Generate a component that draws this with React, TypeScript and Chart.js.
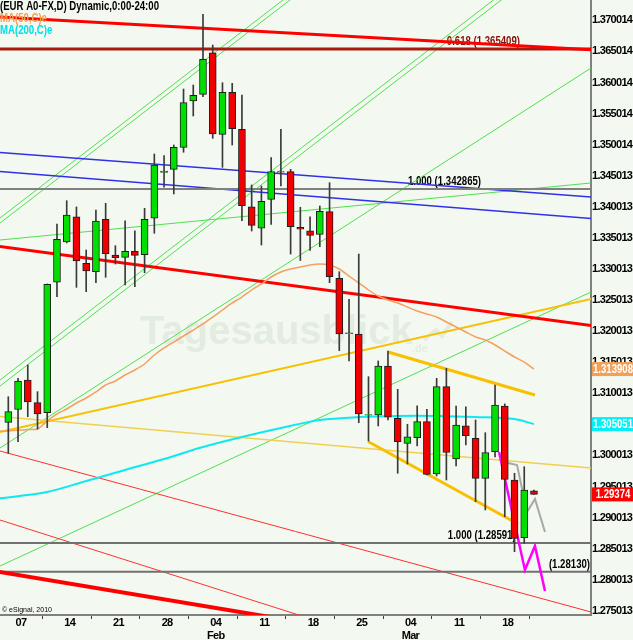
import { useEffect, useRef } from 'react';
import { Chart, registerables } from 'chart.js';

Chart.register(...registerables);

// ---------- DATA ----------
const dates = [
  '2010-01-06','2010-01-07','2010-01-08','2010-01-11','2010-01-12','2010-01-13','2010-01-14','2010-01-15',
  '2010-01-18','2010-01-19','2010-01-20','2010-01-21','2010-01-22','2010-01-25','2010-01-26','2010-01-27',
  '2010-01-28','2010-01-29','2010-02-01','2010-02-02','2010-02-03','2010-02-04','2010-02-05','2010-02-08',
  '2010-02-09','2010-02-10','2010-02-11','2010-02-12','2010-02-15','2010-02-16','2010-02-17','2010-02-18',
  '2010-02-19','2010-02-22','2010-02-23','2010-02-24','2010-02-25','2010-02-26','2010-03-01','2010-03-02',
  '2010-03-03','2010-03-04','2010-03-05','2010-03-08','2010-03-09','2010-03-10','2010-03-11','2010-03-12',
  '2010-03-15','2010-03-16','2010-03-17','2010-03-18','2010-03-19','2010-03-22','2010-03-23',
];

const opens = [
  1.30534,1.30740,1.31215,1.30850,1.30689,1.32787,1.33435,1.33842,1.33093,1.32957,
  1.33801,1.33226,1.33189,1.33286,1.33231,1.33817,1.34555,1.34605,1.34959,1.35704,
  1.35812,1.36481,1.35168,1.35844,1.35249,1.34003,1.33656,1.34122,1.34570,1.34567,
  1.33672,1.33617,1.33559,1.33923,1.32851,1.31960,1.31955,1.30650,1.30652,1.31440,
  1.30599,1.30196,1.30286,1.30544,1.29702,1.31107,1.29944,1.30479,1.30277,1.29633,
  1.30061,1.30796,1.29606,1.28677,1.29430,
];
const highs = [
  1.30946,1.31240,1.31456,1.31027,1.32760,1.33725,1.34100,1.33999,1.33307,1.33950,
  1.34058,1.33376,1.33778,1.33617,1.33978,1.34851,1.34824,1.34996,1.35897,1.35962,
  1.37099,1.36605,1.35999,1.35989,1.35801,1.34353,1.34336,1.34792,1.35249,1.34605,
  1.33994,1.33842,1.34015,1.34390,1.32957,1.32513,1.33242,1.31268,1.31521,1.31681,
  1.31065,1.30502,1.30801,1.30743,1.31242,1.31403,1.30796,1.30785,1.30571,1.30367,
  1.31134,1.30830,1.29714,1.29820,1.29445,
];
const lows = [
  1.30035,1.30222,1.30624,1.30426,1.30447,1.32555,1.33420,1.32706,1.32636,1.32780,
  1.32867,1.33081,1.32743,1.32716,1.32941,1.33575,1.34316,1.34208,1.34879,1.35463,
  1.35773,1.35104,1.34637,1.34996,1.33778,1.33612,1.33387,1.33720,1.34336,1.33242,
  1.33138,1.33299,1.33360,1.32780,1.31686,1.31521,1.30528,1.30233,1.30475,1.30571,
  1.29714,1.29863,1.30153,1.29686,1.29670,1.29606,1.29831,1.30169,1.29256,1.29123,
  1.29976,1.29015,1.28452,1.28587,1.29374,
];
const closes = [
  1.30705,1.31199,1.30861,1.30668,1.32755,1.33479,1.33870,1.33130,1.32969,1.33773,
  1.33242,1.33183,1.33286,1.33221,1.33801,1.34674,1.34575,1.34959,1.35677,1.35796,
  1.36375,1.35173,1.35844,1.35258,1.34019,1.33704,1.34090,1.34567,1.34558,1.33682,
  1.33640,1.33543,1.33929,1.32877,1.31955,1.31972,1.30668,1.30658,1.31440,1.30615,
  1.30222,1.30302,1.30544,1.29697,1.31107,1.30048,1.30491,1.30318,1.29633,1.30045,
  1.30813,1.29617,1.28667,1.29445,1.29374,
];

// MA(50) – one reading per bar, starting one bar before the first candle
const ma50Idx = [-1,0,1,2,3,4,5,6,7,8,9,10,11,12,13,14,15,16,17,18,19,20,21,22,23,24,25,26,27,28,29,30,31,32,33,34,35,36,37,38,39,40,41,42,43,44,45,46,47,48,49,50,51,52,53,54];
const ma50 = [
  1.30390,1.30394,1.30410,1.30418,1.30426,1.30555,1.30668,1.30748,1.30845,1.30925,1.31022,
  1.31134,1.31199,1.31295,1.31376,1.31472,1.31617,1.31730,1.31826,1.31923,1.32019,
  1.32116,1.32228,1.32341,1.32454,1.32550,1.32663,1.32760,1.32872,1.32953,1.33001,
  1.33033,1.33065,1.33081,1.33065,1.33001,1.32888,1.32776,1.32663,1.32566,1.32502,
  1.32454,1.32389,1.32325,1.32277,1.32228,1.32148,1.32068,1.31987,1.31907,1.31858,
  1.31778,1.31681,1.31585,1.31504,1.313908,
];
// MA(200) – readings every few bars
const ma200Idx = [-1,4,8,12,16,20,24,28,32,36,40,44,48,52,54];
const ma200 = [1.29308,1.29413,1.29590,1.29767,1.29944,1.30137,1.30298,1.30442,1.30571,1.30619,1.30636,1.30636,1.30619,1.30587,1.305051];

// trend lines: [barIndex, price] anchor points
const redResistTop = [[-1, 1.370571], [61, 1.365198]];
const fib618 = [[-1, 1.365409], [61, 1.365409]];
const redResistMid = [[-1, 1.33366], [61, 1.32068]];
const redThickLow = [[-1, 1.28129], [30, 1.27320]];
const redThinA = [[-1, 1.30079], [61, 1.27433]];
const redThinB = [[-1, 1.28969], [32, 1.27326]];
const blueUpper = [[-1, 1.34877], [61, 1.34146]];
const blueLower = [[-1, 1.34572], [61, 1.33799]];
const greenShallow = [[-1, 1.33465], [61, 1.34402]];
const greenA1 = [[-1, 1.33804], [30, 1.375443]];
const greenA2 = [[-1, 1.33723], [31, 1.375783]];
const greenB1 = [[-1, 1.31197], [51, 1.374694]];
const greenB2 = [[-1, 1.31100], [52, 1.374935]];
const greenC = [[-1, 1.30106], [61, 1.36350]];
const greenE = [[-1, 1.28211], [61, 1.32714]];
const goldUp = [[-1, 1.30373], [61, 1.32558]];
const paleDown = [[-1, 1.30630], [61, 1.29783]];
const goldChanTop = [[39.0, 1.31665], [54.1, 1.30973]];
const goldChanBot = [[36.95, 1.30225], [52.36, 1.28898]];
const fib100a = [[-1, 1.342865], [61, 1.342865]];
const fib100b = [[-1, 1.28591], [61, 1.28591]];
const level28130 = [[-1, 1.28130], [61, 1.28130]];
const projMagenta = [[50.41, 1.30056], [53.07, 1.28158], [54.10, 1.28544], [55.13, 1.27820]];
const projGray = [[51.33, 1.29879], [52.26, 1.29847], [53.28, 1.29091], [54.10, 1.29300], [55.13, 1.28769]];

const yTickValues = [1.370014,1.365014,1.360014,1.355014,1.350014,1.345013,1.340013,1.335013,1.330013,1.325013,1.320013,1.315013,1.310013,1.305013,1.300013,1.295013,1.290013,1.285013,1.280013,1.275013];
const yTickLabels = ['1.370014','1.365014','1.360014','1.355014','1.350014','1.345013','1.340013','1.335013','1.330013','1.325013','1.320013','1.315013','1.310013','1.305013','1.300013','1.295013','1.290013','1.285013','1.280013','1.275013'];
const xTickIdx = [1, 6, 11, 16, 21, 26, 31, 36, 41, 46, 51];
const xTickLabels = ['07','14','21','28','04','11','18','25','04','11','18'];
const xMonthLabels = ['','','','','Feb','','','','Mar','',''];

// ---------- STYLE ----------
const FONT = "'Liberation Sans', Arial, sans-serif";
const BG = '#f3f8f0';
const X_MIN = -0.853;
const X_MAX = 59.857;
const Y_MIN = 1.274334;
const Y_MAX = 1.373294;

const trendStyles: { pts: number[][]; color: string; width: number }[] = [
  { pts: greenA1, color: '#50e050', width: 1 },
  { pts: greenA2, color: '#50e050', width: 1 },
  { pts: greenB1, color: '#50e050', width: 1 },
  { pts: greenB2, color: '#50e050', width: 1 },
  { pts: greenC, color: '#50e050', width: 1 },
  { pts: greenE, color: '#50e050', width: 1 },
  { pts: greenShallow, color: '#50e050', width: 1 },
  { pts: redThinA, color: '#ff3030', width: 1 },
  { pts: redThinB, color: '#ff3030', width: 1 },
  { pts: paleDown, color: '#f0d050', width: 1.5 },
  { pts: goldUp, color: '#f8c000', width: 2 },
  { pts: goldChanTop, color: '#f8c000', width: 3 },
  { pts: goldChanBot, color: '#f8c000', width: 3 },
  { pts: blueUpper, color: '#3030e8', width: 1.5 },
  { pts: blueLower, color: '#3030e8', width: 1.5 },
  { pts: fib100a, color: '#808080', width: 2 },
  { pts: fib100b, color: '#707070', width: 2 },
  { pts: level28130, color: '#707070', width: 2 },
  { pts: redResistMid, color: '#ff0000', width: 3 },
  { pts: redThickLow, color: '#ff0000', width: 4 },
  { pts: fib618, color: '#a81c10', width: 3 },
  { pts: redResistTop, color: '#ff0000', width: 3 },
];

function narrowText(ctx: any, text: string, x: number, y: number, px: number, color: string, align: string, baseline: string) {
  ctx.save();
  ctx.letterSpacing = '0px';
  ctx.font = `bold ${px}px ${FONT}`;
  ctx.fillStyle = color;
  ctx.textAlign = align;
  ctx.textBaseline = baseline;
  ctx.translate(x, y);
  ctx.scale(0.8, 1);
  ctx.fillText(text, 0, 0);
  ctx.restore();
}

const overlayPlugin = {
  id: 'overlay',
  beforeDraw(chart: any) {
    const ctx = chart.ctx;
    ctx.save();
    ctx.fillStyle = BG;
    ctx.fillRect(0, 0, chart.width, chart.height);
    ctx.restore();
    // condensed look for the axis labels drawn by Chart.js
    ctx.letterSpacing = '-0.7px';
  },
  beforeDatasetsDraw(chart: any) {
    const ctx = chart.ctx;
    const xs = chart.scales.x;
    const ys = chart.scales.y;
    ctx.save();
    ctx.letterSpacing = '0px';
    // watermark
    ctx.fillStyle = '#e3ece1';
    ctx.font = "bold 40px 'Liberation Sans', Arial, sans-serif";
    ctx.textBaseline = 'middle';
    ctx.textAlign = 'left';
    ctx.fillText('Tagesausblick', 140, 333);
    ctx.font = "bold 11px 'Liberation Sans', Arial, sans-serif";
    ctx.fillText('.de', 412, 349);
    ctx.strokeStyle = '#e3ece1';
    ctx.lineWidth = 4;
    ctx.beginPath();
    ctx.moveTo(424, 340);
    ctx.lineTo(436, 330);
    ctx.lineTo(442, 336);
    ctx.lineTo(452, 322);
    ctx.stroke();
    ctx.restore();
    // level annotations
    narrowText(ctx, '0.618 (1.365409)', xs.getPixelForValue(45.05), ys.getPixelForValue(1.365409) - 1, 12, '#8a1008', 'left', 'bottom');
    narrowText(ctx, '1.000 (1.342865)', xs.getPixelForValue(41.05), ys.getPixelForValue(1.342865) - 1, 12, '#000', 'left', 'bottom');
    narrowText(ctx, '1.000 (1.28591)', xs.getPixelForValue(45.15), ys.getPixelForValue(1.28591) - 1, 12, '#000', 'left', 'bottom');
    narrowText(ctx, '(1.28130)', chart.chartArea.right - 1, ys.getPixelForValue(1.28130) - 1, 12, '#000', 'right', 'bottom');
  },
  afterDraw(chart: any) {
    const ctx = chart.ctx;
    const ys = chart.scales.y;
    const area = chart.chartArea;
    // legend
    narrowText(ctx, '(EUR A0-FX,D) Dynamic,0:00-24:00', 0, 7, 12, '#000', 'left', 'middle');
    narrowText(ctx, 'MA(50,C)e', 0, 19, 12, '#f5a050', 'left', 'middle');
    narrowText(ctx, 'MA(200,C)e', 0, 31, 12, '#00e0e8', 'left', 'middle');
    // copyright
    ctx.save();
    ctx.letterSpacing = '0px';
    ctx.fillStyle = '#000';
    ctx.font = "7px 'Liberation Sans', Arial, sans-serif";
    ctx.textBaseline = 'middle';
    ctx.textAlign = 'left';
    ctx.fillText('\u00a9 eSignal, 2010', 2, area.bottom - 5);
    ctx.restore();
    // price boxes
    const boxes = [
      { v: ma50[ma50.length - 1], t: '1.313908', bg: '#f0a058' },
      { v: ma200[ma200.length - 1], t: '1.305051', bg: '#00f0f8' },
      { v: closes[closes.length - 1], t: '1.29374', bg: '#ff0000' },
    ];
    for (const b of boxes) {
      const y = ys.getPixelForValue(b.v);
      ctx.save();
      ctx.fillStyle = b.bg;
      ctx.fillRect(area.right + 1, y - 7, chart.width - area.right - 1, 14);
      ctx.restore();
      narrowText(ctx, b.t, (area.right + chart.width) / 2 + 1, y + 0.5, 12, '#fff', 'center', 'middle');
    }
  },
};

export default function App() {
  const ref = useRef<HTMLCanvasElement | null>(null);

  useEffect(() => {
    if (!ref.current) return;
    const toXY = (pts: number[][]) => pts.map(([x, y]) => ({ x, y }));

    const trendSets = trendStyles.map((s, i) => ({
      type: 'line' as const,
      data: toXY(s.pts),
      borderColor: s.color,
      borderWidth: s.width,
      pointRadius: 0,
      tension: 0,
      fill: false,
      order: 100 - i,
    }));

    const chart = new Chart(ref.current, {
      type: 'bar',
      data: {
        datasets: [
          ...trendSets,
          {
            type: 'line',
            data: ma200Idx.map((k, i) => ({ x: k, y: ma200[i] })),
            borderColor: '#10e8f0',
            borderWidth: 2,
            pointRadius: 0,
            tension: 0.3,
            fill: false,
            order: 20,
          },
          {
            type: 'line',
            data: ma50Idx.map((k, i) => ({ x: k, y: ma50[i] })),
            borderColor: '#f4a060',
            borderWidth: 1.5,
            pointRadius: 0,
            tension: 0.2,
            fill: false,
            order: 19,
          },
          {
            type: 'line',
            data: toXY(projGray),
            borderColor: '#a8a8a8',
            borderWidth: 2,
            pointRadius: 0,
            tension: 0,
            fill: false,
            order: 11,
          },
          {
            type: 'line',
            data: toXY(projMagenta),
            borderColor: '#ff00ff',
            borderWidth: 2.5,
            pointRadius: 0,
            tension: 0,
            fill: false,
            order: 10,
          },
          {
            type: 'bar',
            data: dates.map((_, i) => ({ x: i, y: [lows[i], highs[i]] })) as any,
            backgroundColor: '#3a3a3a',
            barThickness: 1,
            grouped: false,
            order: 2,
          },
          {
            type: 'bar',
            data: dates.map((_, i) => ({ x: i, y: [opens[i], closes[i]] })) as any,
            backgroundColor: dates.map((_, i) => (closes[i] >= opens[i] ? '#00e000' : '#f00000')),
            borderColor: '#1e1e1e',
            borderWidth: 1,
            borderSkipped: false,
            barThickness: 7,
            grouped: false,
            order: 1,
          },
        ] as any,
      },
      options: {
        animation: false,
        responsive: false,
        maintainAspectRatio: false,
        layout: { padding: 0 },
        plugins: { legend: { display: false }, tooltip: { enabled: false } },
        scales: {
          x: {
            type: 'linear',
            min: X_MIN,
            max: X_MAX,
            offset: false,
            afterBuildTicks: (s: any) => {
              s.ticks = xTickIdx.map((v) => ({ value: v }));
            },
            afterFit: (s: any) => {
              s.height = 25;
              s.paddingLeft = 0;
              s.paddingRight = 0;
            },
            ticks: {
              autoSkip: false,
              maxRotation: 0,
              minRotation: 0,
              align: 'center',
              labelOffset: 3,
              padding: -2,
              color: '#000',
              font: { family: FONT, size: 11, weight: 'bold', lineHeight: 1.15 },
              callback: (_v: any, i: number) =>
                xMonthLabels[i] ? [xTickLabels[i], xMonthLabels[i]] : xTickLabels[i],
            },
            grid: { drawOnChartArea: false, drawTicks: true, tickLength: 4, color: '#404040' },
            border: { display: true, color: '#808080', width: 2 },
          },
          y: {
            type: 'linear',
            position: 'right',
            min: Y_MIN,
            max: Y_MAX,
            afterBuildTicks: (s: any) => {
              s.ticks = yTickValues.map((v) => ({ value: v }));
            },
            afterFit: (s: any) => {
              s.width = 42;
              s.paddingTop = 0;
              s.paddingBottom = 0;
            },
            ticks: {
              autoSkip: false,
              padding: 1,
              color: '#000',
              font: { family: FONT, size: 11, weight: 'bold' },
              callback: (_v: any, i: number) => yTickLabels[i],
            },
            grid: { drawOnChartArea: false, drawTicks: false },
            border: { display: true, color: '#808080', width: 2 },
          },
        },
      } as any,
      plugins: [overlayPlugin],
    });
    return () => chart.destroy();
  }, []);

  return (
    <div style={{ position: 'absolute', left: 0, top: 0, width: 633, height: 640 }}>
      <canvas ref={ref} width={633} height={640} style={{ display: 'block', width: 633, height: 640 }} />
    </div>
  );
}
